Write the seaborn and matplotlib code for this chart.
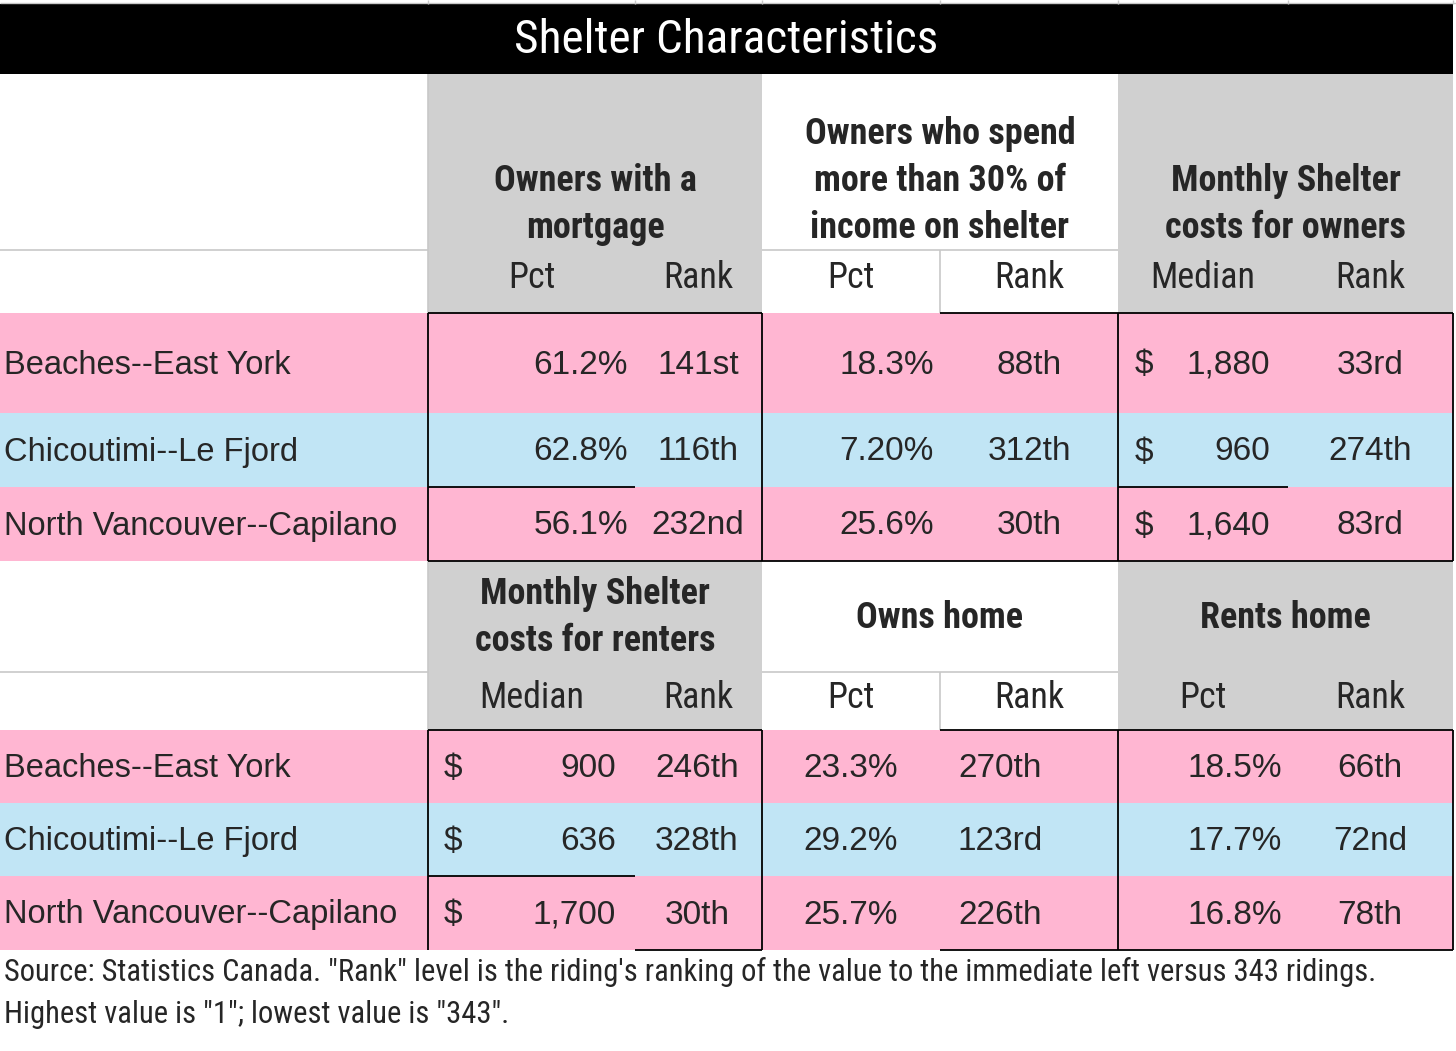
import seaborn as sns
import matplotlib
matplotlib.use("Agg")
from matplotlib import pyplot as plt
from matplotlib import font_manager

#%% DATA

ridings = ["Beaches--East York", "Chicoutimi--Le Fjord", "North Vancouver--Capilano"]

mortgage_pct = [61.2, 62.8, 56.1]
mortgage_rank = [141, 116, 232]
spend30_pct = [18.3, 7.20, 25.6]
spend30_rank = [88, 312, 30]
owner_cost = [1880, 960, 1640]
owner_cost_rank = [33, 274, 83]

renter_cost = [900, 636, 1700]
renter_cost_rank = [246, 328, 30]
owns_pct = [23.3, 29.2, 25.7]
owns_rank = [270, 123, 226]
rents_pct = [18.5, 17.7, 16.8]
rents_rank = [66, 72, 78]

top_headers = ["Owners with a\nmortgage",
               "Owners who spend\nmore than 30% of\nincome on shelter",
               "Monthly Shelter\ncosts for owners"]
bottom_headers = ["Monthly Shelter\ncosts for renters", "Owns home", "Rents home"]
top_sub = ["Pct", "Rank", "Pct", "Rank", "Median", "Rank"]
bottom_sub = ["Median", "Rank", "Pct", "Rank", "Pct", "Rank"]

title = "Shelter Characteristics"
source = ('Source: Statistics Canada. "Rank" level is the riding\'s ranking of the value to the immediate left versus 343 ridings.\n'
          'Highest value is "1"; lowest value is "343".')

#%% LAYOUT (pixels)

W, H = 1456, 1051
cols = [0, 428, 635, 762, 940, 1118, 1288, 1453]   # column edges
top_rows = [313, 413, 487, 561]
bot_rows = [730, 803, 876, 950]

PINK = "#FFB6D2"
BLUE = "#C1E5F5"
GRAY = "#D0D0D0"
GRID = "#C8C8C8"

def pick(*names):
    avail = {f.name for f in font_manager.fontManager.ttflist}
    for n in names:
        if n in avail:
            return n
    return "DejaVu Sans"

NARROW = pick("Liberation Sans Narrow", "DejaVu Sans Condensed", "Roboto Condensed", "Roboto")
BODY = pick("Liberation Sans", "Arial", "DejaVu Sans")
LABEL = pick("Liberation Sans", "DejaVu Sans")

def ordinal(n):
    if 10 <= n % 100 <= 20:
        suf = "th"
    else:
        suf = {1: "st", 2: "nd", 3: "rd"}.get(n % 10, "th")
    return f"{n}{suf}"

def pct(v):
    return f"{v:#.3g}%"

def money(v):
    return f"{v:,}"

#%% FIGURE

sns.set_theme(style="white")
fig = plt.figure(figsize=(W / 100, H / 100), dpi=100)
ax = fig.add_axes([0, 0, 1, 1])
ax.set_xlim(0, W)
ax.set_ylim(H, 0)
ax.axis("off")

def rect(x0, x1, y0, y1, color):
    ax.fill_between([x0, x1], y0, y1, color=color, lw=0, zorder=1)

def hline(y, x0, x1, color="black", lw=1.3):
    ax.plot([x0, x1], [y, y], color=color, lw=lw, zorder=3, solid_capstyle="butt")

def vline(x, y0, y1, color="black", lw=1.3):
    ax.plot([x, x], [y0, y1], color=color, lw=lw, zorder=3, solid_capstyle="butt")

# faint sheet gridlines at top
hline(3, 0, W, GRID, 1.0)
for c in cols[1:]:
    vline(c, 0, 4, GRID, 1.0)

# title bar
rect(0, cols[-1], 4, 74, "black")
ax.text(cols[-1] / 2, 40, title, color="white", ha="center", va="center",
        fontsize=34, family=NARROW, zorder=4)

HEAD_FS = 26
SUB_FS = 26
VAL_FS = 24
LAB_FS = 23.5

def block(y_head, y_sub, rows, headers, subs, head_va):
    # header backgrounds: group 1 and 3 gray
    rect(cols[1], cols[3], y_head, rows[0], GRAY)
    rect(cols[5], cols[7], y_head, rows[0], GRAY)
    # gray lines
    hline(y_sub, cols[0], cols[1], GRID, 1.2)
    hline(y_sub, cols[3], cols[5], GRID, 1.2)
    vline(cols[4], y_sub, rows[0], GRID, 1.2)
    vline(cols[1], y_head, rows[0], GRID, 1.2)
    # header text
    for i, h in enumerate(headers):
        xc = (cols[1 + 2 * i] + cols[3 + 2 * i]) / 2
        if head_va == "bottom":
            ax.text(xc, y_sub - 4, h, ha="center", va="bottom", fontsize=HEAD_FS,
                    family=NARROW, weight="bold", linespacing=1.4, zorder=4)
        else:
            ax.text(xc, (y_head + y_sub) / 2 + 1, h, ha="center", va="center", fontsize=HEAD_FS,
                    family=NARROW, weight="bold", linespacing=1.4, zorder=4)
    for j, s in enumerate(subs):
        xc = (cols[1 + j] + cols[2 + j]) / 2
        ax.text(xc, (y_sub + rows[0]) / 2 - 3, s, ha="center", va="center",
                fontsize=SUB_FS, family=NARROW, zorder=4)
    # data row bands
    for r in range(3):
        rect(0, cols[-1], rows[r], rows[r + 1], BLUE if r == 1 else PINK)
        ax.text(4, (rows[r] + rows[r + 1]) / 2 + 2, ridings[r], ha="left", va="center",
                fontsize=LAB_FS, family=LABEL, zorder=4)

block(74, 250, top_rows, top_headers, top_sub, "bottom")
block(561, 672, bot_rows, bottom_headers, bottom_sub, "center")

def centers(rows):
    return [(rows[r] + rows[r + 1]) / 2 + 2 for r in range(3)]

kw = dict(fontsize=VAL_FS, family=BODY, va="center", zorder=4)

# top block values
for i, y in enumerate(centers(top_rows)):
    ax.text(628, y, pct(mortgage_pct[i]), ha="right", **kw)
    ax.text(698, y, ordinal(mortgage_rank[i]), ha="center", **kw)
    ax.text(934, y, pct(spend30_pct[i]), ha="right", **kw)
    ax.text(1029, y, ordinal(spend30_rank[i]), ha="center", **kw)
    ax.text(1135, y, "$", ha="left", **kw)
    ax.text(1270, y, money(owner_cost[i]), ha="right", **kw)
    ax.text(1370, y, ordinal(owner_cost_rank[i]), ha="center", **kw)

# bottom block values
for i, y in enumerate(centers(bot_rows)):
    ax.text(444, y, "$", ha="left", **kw)
    ax.text(616, y, money(renter_cost[i]), ha="right", **kw)
    ax.text(697, y, ordinal(renter_cost_rank[i]), ha="center", **kw)
    ax.text(898, y, pct(owns_pct[i]), ha="right", **kw)
    ax.text(1000, y, ordinal(owns_rank[i]), ha="center", **kw)
    ax.text(1282, y, pct(rents_pct[i]), ha="right", **kw)
    ax.text(1370, y, ordinal(rents_rank[i]), ha="center", **kw)

# black borders, top block
hline(top_rows[0], cols[1], cols[3])
hline(top_rows[0], cols[4], cols[7])
hline(top_rows[3], cols[1], cols[7])
for c in [cols[1], cols[3], cols[5], cols[7]]:
    vline(c, top_rows[0], top_rows[3])
hline(top_rows[2], cols[1], cols[2])
hline(top_rows[2], cols[5], cols[6])

# black borders, bottom block
hline(bot_rows[0], cols[1], cols[3])
hline(bot_rows[0], cols[4], cols[7])
hline(bot_rows[3], cols[2], cols[3])
hline(bot_rows[3], cols[4], cols[7])
for c in [cols[1], cols[3], cols[5], cols[7]]:
    vline(c, bot_rows[0], bot_rows[3])
hline(bot_rows[2], cols[1], cols[2])

# footer
ax.text(4, 993, source, ha="left", va="center", fontsize=22, family=NARROW,
        linespacing=1.55, zorder=4)

fig.savefig("out.png", dpi=100)
